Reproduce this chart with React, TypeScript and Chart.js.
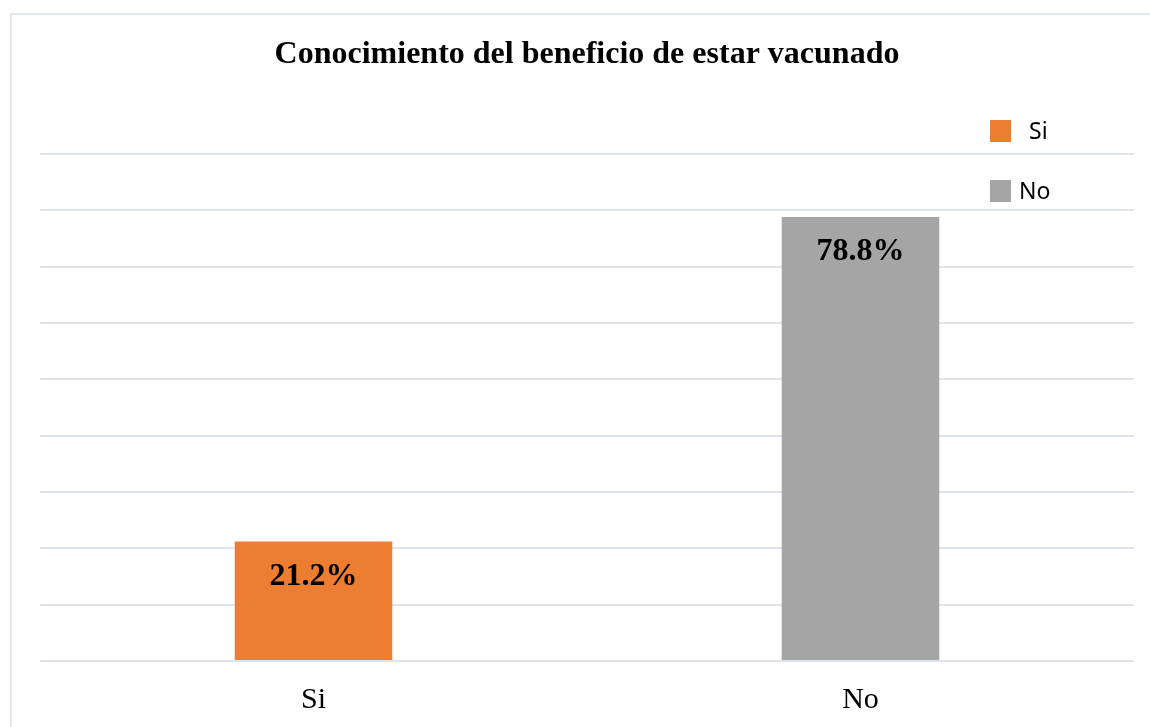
import React, { useEffect, useRef } from "react";
import { Chart, registerables } from "chart.js";

Chart.register(...registerables);

const categories = ["Si", "No"];
const values = [21.2, 78.8];
const valueLabels = ["21.2%", "78.8%"];
const barColors = ["#ED7D31", "#A5A5A5"];
const legendLabels = ["Si", "No"];
const titleText = "Conocimiento del beneficio de estar vacunado";

const frame = {
  id: "frame",
  beforeDraw(chart: any) {
    const ctx = chart.ctx;
    ctx.save();
    ctx.fillStyle = "#ffffff";
    ctx.fillRect(0, 0, chart.width, chart.height);
    ctx.strokeStyle = "#e3e7ef";
    ctx.lineWidth = 2;
    ctx.beginPath();
    ctx.moveTo(11, chart.height);
    ctx.lineTo(11, 14);
    ctx.lineTo(chart.width, 14);
    ctx.stroke();
    ctx.restore();
  },
};

const barLabels = {
  id: "barLabels",
  afterDatasetsDraw(chart: any) {
    const ctx = chart.ctx;
    const meta = chart.getDatasetMeta(0);
    ctx.save();
    ctx.font = "bold 32px 'Liberation Serif', 'Times New Roman', serif";
    ctx.fillStyle = "#000000";
    ctx.textAlign = "center";
    ctx.textBaseline = "middle";
    meta.data.forEach((bar: any, i: number) => {
      ctx.fillText(valueLabels[i], bar.x, bar.y + 35);
    });
    ctx.restore();
  },
};

const customLegend = {
  id: "customLegend",
  afterDraw(chart: any) {
    const ctx = chart.ctx;
    ctx.save();
    ctx.font = "23px 'Noto Sans', 'Open Sans', sans-serif";
    ctx.textBaseline = "middle";
    ctx.textAlign = "left";
    const items = [
      { y: 120, textX: 1029 },
      { y: 180, textX: 1019 },
    ];
    legendLabels.forEach((lab, i) => {
      const it = items[i];
      ctx.fillStyle = barColors[i];
      ctx.fillRect(990, it.y, 21, 22);
      ctx.fillStyle = "#000000";
      ctx.fillText(lab, it.textX, it.y + 12);
    });
    ctx.restore();
  },
};

export default function App() {
  const ref = useRef<HTMLCanvasElement>(null);
  useEffect(() => {
    if (!ref.current) return;
    const chart = new Chart(ref.current, {
      type: "bar",
      data: {
        labels: categories,
        datasets: [
          {
            data: values,
            backgroundColor: barColors,
            borderWidth: 0,
            barPercentage: 0.288,
            categoryPercentage: 1,
          },
        ],
      },
      options: {
        animation: false,
        responsive: false,
        maintainAspectRatio: false,
        layout: { padding: { left: 40, right: 16, top: 0, bottom: 0 } },
        plugins: {
          legend: { display: false },
          tooltip: { enabled: false },
          title: {
            display: true,
            text: titleText,
            color: "#000000",
            font: { family: "'Liberation Serif', 'Times New Roman', serif", size: 32, weight: "bold", lineHeight: 1.2 },
            padding: { top: 36, bottom: 79.6 },
          },
        },
        scales: {
          x: {
            grid: { display: false, drawTicks: false },
            border: { display: false },
            afterFit: (scale: any) => {
              scale.height = 66;
            },
            ticks: {
              color: "#000000",
              padding: 21,
              font: { family: "'Liberation Serif', 'Times New Roman', serif", size: 30 },
            },
          },
          y: {
            min: 0,
            max: 90,
            grid: { color: "#e0e4ec", lineWidth: 2, drawTicks: false },
            border: { display: false },
            ticks: { display: false, stepSize: 10 },
          },
        },
      },
      plugins: [frame, barLabels, customLegend],
    });
    return () => chart.destroy();
  }, []);
  return (
    <div style={{ position: "fixed", left: 0, top: 0, width: 1150, height: 727 }}>
      <canvas ref={ref} width={1150} height={727} style={{ width: 1150, height: 727, display: "block" }} />
    </div>
  );
}
